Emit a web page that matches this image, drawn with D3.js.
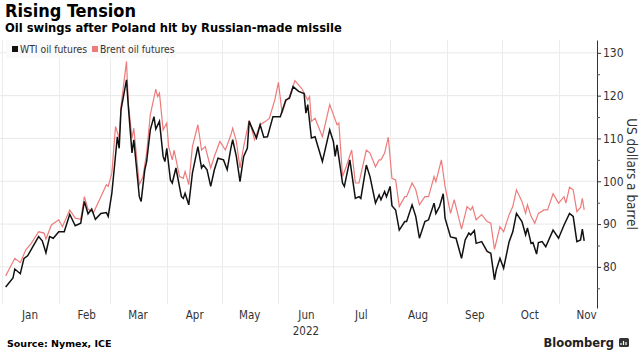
<!DOCTYPE html>
<html>
<head>
<meta charset="utf-8">
<script src="https://cdn.jsdelivr.net/npm/d3@7"></script>
<style>
  body { margin: 0; background: #fff; }
  text { font-family: "DejaVu Sans Condensed", "DejaVu Sans", sans-serif; }
</style>
</head>
<body>
<div id="chart"></div>
<script>
var wtiDates = ["2022-01-03","2022-01-07","2022-01-08","2022-01-11","2022-01-13","2022-01-15","2022-01-17","2022-01-21","2022-01-23","2022-01-25","2022-01-27","2022-01-29",
  "2022-02-01","2022-02-04","2022-02-07","2022-02-10","2022-02-13","2022-02-15","2022-02-17","2022-02-19","2022-02-21","2022-02-24","2022-02-27","2022-02-28",
  "2022-03-02","2022-03-05","2022-03-06","2022-03-07","2022-03-10","2022-03-11","2022-03-13","2022-03-14","2022-03-17","2022-03-18","2022-03-20","2022-03-21","2022-03-23","2022-03-25","2022-03-26","2022-03-28","2022-03-30","2022-03-31",
  "2022-04-01","2022-04-03","2022-04-04","2022-04-06","2022-04-09","2022-04-10","2022-04-11","2022-04-13","2022-04-15","2022-04-18","2022-04-20","2022-04-21","2022-04-23","2022-04-25","2022-04-27","2022-04-29",
  "2022-05-02","2022-05-04","2022-05-06","2022-05-07","2022-05-09","2022-05-11","2022-05-13","2022-05-15","2022-05-16","2022-05-18","2022-05-20","2022-05-22","2022-05-24","2022-05-26","2022-05-29","2022-05-31",
  "2022-06-02","2022-06-05","2022-06-07","2022-06-09","2022-06-12","2022-06-15","2022-06-16","2022-06-17","2022-06-19","2022-06-21","2022-06-25","2022-06-29",
  "2022-07-01","2022-07-02","2022-07-03","2022-07-06","2022-07-07","2022-07-10","2022-07-13","2022-07-15","2022-07-16","2022-07-19","2022-07-21","2022-07-24","2022-07-26","2022-07-27","2022-07-29","2022-07-30",
  "2022-08-01","2022-08-02","2022-08-04","2022-08-06","2022-08-09","2022-08-10","2022-08-13","2022-08-15","2022-08-17","2022-08-20","2022-08-22","2022-08-25","2022-08-26","2022-08-28","2022-08-30","2022-08-31",
  "2022-09-03","2022-09-06","2022-09-09","2022-09-11","2022-09-13","2022-09-14","2022-09-16","2022-09-17","2022-09-20","2022-09-23","2022-09-25","2022-09-27","2022-09-28","2022-09-30",
  "2022-10-02","2022-10-05","2022-10-07","2022-10-09","2022-10-12","2022-10-14","2022-10-15","2022-10-17","2022-10-18","2022-10-20","2022-10-21","2022-10-23","2022-10-25","2022-10-29",
  "2022-11-01","2022-11-04","2022-11-07","2022-11-09","2022-11-11","2022-11-13","2022-11-14","2022-11-15"];
var wtiValues = [75.3,77.4,79.5,78.4,82.0,82.6,84.1,87.1,86.1,83.3,87.1,86.7,
  88.2,88.2,92.3,89.6,90.2,95.3,92.4,93.5,91.1,92.5,92.7,91.8,
  97.2,110.4,107.7,116.7,123.7,117.5,106.6,109.7,96.4,95.3,102.7,104.6,112.0,115.1,112.2,114.0,105.8,104.6,
  107.7,100.3,99.6,103.1,96.4,96.0,97.2,94.5,101.9,108.1,103.1,103.8,102.7,98.8,102.7,105.4,
  105.0,102.7,107.7,109.7,105.8,99.9,105.8,107.7,114.0,112.0,110.1,113.2,110.3,110.4,115.1,115.1,
  115.1,119.0,119.4,122.1,121.0,120.5,115.9,117.9,110.1,110.4,104.6,112.0,
  109.3,105.8,108.5,99.6,98.8,105.0,96.0,96.4,96.0,103.8,101.1,94.9,96.8,95.7,97.6,96.4,
  98.8,94.3,93.3,88.6,90.6,90.6,94.5,91.8,86.7,90.6,91.0,94.9,92.5,94.1,97.1,91.4,
  87.0,86.7,82.0,86.3,87.9,87.5,88.5,85.5,85.9,83.6,83.2,77.0,79.3,82.0,
  79.7,85.9,88.2,92.5,90.6,87.5,89.1,85.5,85.7,83.0,85.7,85.9,84.7,88.6,
  86.7,89.8,92.5,91.8,85.9,86.3,88.8,86.1];

var brentDates = ["2022-01-03","2022-01-08","2022-01-11","2022-01-14","2022-01-17","2022-01-21","2022-01-24","2022-01-25","2022-01-28",
  "2022-02-01","2022-02-03","2022-02-07","2022-02-10","2022-02-13","2022-02-15","2022-02-17","2022-02-20","2022-02-24","2022-02-27","2022-02-28",
  "2022-03-02","2022-03-04","2022-03-06","2022-03-07","2022-03-10","2022-03-11","2022-03-13","2022-03-14","2022-03-17","2022-03-19","2022-03-21","2022-03-23","2022-03-26","2022-03-27","2022-03-28","2022-03-30",
  "2022-04-01","2022-04-02","2022-04-04","2022-04-05","2022-04-08","2022-04-10","2022-04-11","2022-04-13","2022-04-15","2022-04-18","2022-04-20","2022-04-22","2022-04-25","2022-04-27","2022-04-30",
  "2022-05-03","2022-05-06","2022-05-07","2022-05-09","2022-05-11","2022-05-13","2022-05-16","2022-05-19","2022-05-22","2022-05-25","2022-05-27","2022-05-30",
  "2022-06-01","2022-06-03","2022-06-05","2022-06-07","2022-06-10","2022-06-12","2022-06-14","2022-06-17","2022-06-18","2022-06-19","2022-06-21","2022-06-25","2022-06-29",
  "2022-07-03","2022-07-04","2022-07-06","2022-07-08","2022-07-11","2022-07-13","2022-07-15","2022-07-19","2022-07-21","2022-07-24","2022-07-26","2022-07-27","2022-07-29","2022-07-31",
  "2022-08-02","2022-08-04","2022-08-06","2022-08-09","2022-08-10","2022-08-13","2022-08-15","2022-08-17","2022-08-20","2022-08-22","2022-08-25","2022-08-26","2022-08-29","2022-08-31",
  "2022-09-03","2022-09-05","2022-09-09","2022-09-12","2022-09-14","2022-09-15","2022-09-17","2022-09-20","2022-09-23","2022-09-25","2022-09-27","2022-09-30",
  "2022-10-02","2022-10-05","2022-10-07","2022-10-09","2022-10-12","2022-10-14","2022-10-15","2022-10-17","2022-10-19","2022-10-21","2022-10-24","2022-10-26","2022-10-29",
  "2022-11-01","2022-11-04","2022-11-05","2022-11-07","2022-11-09","2022-11-11","2022-11-13","2022-11-14","2022-11-15"];
var brentValues = [77.9,82.0,81.0,84.0,85.5,88.2,87.9,86.5,89.8,
  91.0,89.4,93.3,91.4,91.1,96.4,93.5,92.7,96.4,99.2,98.8,
  101.9,112.8,110.1,117.5,128.0,118.2,110.1,112.4,99.2,101.1,106.6,115.5,121.5,119.8,120.6,112.0,
  113.6,108.1,105.0,107.3,101.1,100.7,102.3,99.2,108.1,113.2,107.3,108.1,103.1,105.8,109.3,
  107.3,110.8,112.4,109.3,103.1,108.1,114.3,109.7,113.2,114.0,114.7,119.0,
  123.1,115.9,118.6,119.8,123.5,122.5,121.5,119.0,119.8,114.0,114.7,110.4,117.9,
  113.2,113.6,101.1,103.4,107.3,99.6,99.6,107.3,106.6,103.4,105.0,105.0,106.6,110.3,
  100.7,100.3,94.1,96.4,96.4,99.6,98.0,94.5,96.4,96.4,101.1,99.9,105.0,98.8,
  92.5,95.7,88.8,94.1,93.3,94.1,91.0,92.2,90.6,90.2,84.1,89.4,
  88.2,92.2,94.1,98.0,95.3,92.5,94.5,91.8,90.2,92.5,93.3,93.3,97.1,
  94.9,96.4,94.9,98.6,98.0,92.9,93.9,96.0,93.3];

var yTicks = [80, 90, 100, 110, 120, 130];
var yMinorTicks = [75, 85, 95, 105, 115, 125];
var monthStarts = ["2022-01-01","2022-02-01","2022-03-01","2022-04-01","2022-05-01","2022-06-01","2022-07-01","2022-08-01","2022-09-01","2022-10-01","2022-11-01"];
var monthLabelDates = ["2022-01-16","2022-02-16","2022-03-16","2022-04-16","2022-05-16","2022-06-16","2022-07-16","2022-08-16","2022-09-16","2022-10-16","2022-11-16"];

function init() {
  var w = 642;
  var h = 353;
  var parse = d3.timeParse("%Y-%m-%d");
  var cond = '"DejaVu Sans Condensed", "DejaVu Sans", sans-serif';

  var x = d3.scaleTime()
      .domain([parse("2022-01-01"), parse("2022-11-22")])
      .range([2, 597]);
  var y = d3.scaleLinear()
      .domain([70.4, 133])
      .range([308, 40]);

  var svg = d3.select("#chart")
      .append("svg")
      .attr("width", w)
      .attr("height", h);

  // horizontal grid
  svg.selectAll("line.hgrid")
    .data(yTicks)
    .enter()
    .append("line")
    .attr("class", "hgrid")
    .attr("x1", 0).attr("x2", x.range()[1])
    .attr("y1", function(d) { return y(d); })
    .attr("y2", function(d) { return y(d); })
    .attr("stroke", "#e8e8e8").attr("stroke-width", 1);

  // vertical grid at month starts
  svg.selectAll("line.vgrid")
    .data(monthStarts.map(parse))
    .enter()
    .append("line")
    .attr("class", "vgrid")
    .attr("x1", function(d) { return Math.round(x(d)) + 0.5; })
    .attr("x2", function(d) { return Math.round(x(d)) + 0.5; })
    .attr("y1", 40).attr("y2", 304)
    .attr("stroke", "#ececec").attr("stroke-width", 1);

  var line = d3.line()
      .x(function(d) { return x(d.date); })
      .y(function(d) { return y(d.value); });

  var brent = brentDates.map(function(d, i) { return {date: parse(d), value: brentValues[i]}; });
  var wti = wtiDates.map(function(d, i) { return {date: parse(d), value: wtiValues[i]}; });

  svg.append("path")
    .datum(brent)
    .attr("fill", "none")
    .attr("stroke", "#ee7b7b")
    .attr("stroke-width", 1.2)
    .attr("d", line);

  svg.append("path")
    .datum(wti)
    .attr("fill", "none")
    .attr("stroke", "#111")
    .attr("stroke-width", 1.5)
    .attr("d", line);

  // y axis on the right
  var yAxis = svg.append("g")
    .attr("transform", "translate(" + x.range()[1] + ",0)")
    .call(d3.axisRight(y).tickValues(yTicks).tickSize(4).tickSizeOuter(0).tickPadding(2));
  yAxis.select(".domain").attr("stroke", "#333");
  yAxis.selectAll(".tick line").attr("stroke", "#333");
  yAxis.selectAll("text")
    .attr("fill", "#333")
    .style("font-size", "12px")
    .style("font-family", cond);

  svg.append("g")
    .attr("transform", "translate(" + x.range()[1] + ",0)")
    .call(d3.axisRight(y).tickValues(yMinorTicks).tickSize(3).tickFormat(""))
    .call(function(g) { g.select(".domain").remove(); })
    .selectAll(".tick line").attr("stroke", "#555");

  // month labels
  var xAxis = svg.append("g")
    .attr("transform", "translate(0,304)")
    .call(d3.axisBottom(x).tickValues(monthLabelDates.map(parse)).tickSize(0).tickPadding(7).tickFormat(d3.timeFormat("%b")));
  xAxis.select(".domain").remove();
  xAxis.selectAll("text")
    .attr("fill", "#333")
    .style("font-size", "11.5px")
    .style("font-family", cond);

  svg.append("text")
    .attr("x", x(parse("2022-06-16")))
    .attr("y", 335)
    .attr("text-anchor", "middle")
    .attr("fill", "#333")
    .style("font-size", "11.5px")
    .text("2022");

  // y axis title
  svg.append("text")
    .attr("transform", "translate(627,174) rotate(90)")
    .attr("text-anchor", "middle")
    .attr("fill", "#333")
    .style("font-size", "13.5px")
    .text("US dollars a barrel");

  // titles
  svg.append("text")
    .attr("x", 5).attr("y", 17)
    .style("font-family", cond)
    .style("font-weight", "bold")
    .style("font-size", "18px")
    .attr("fill", "#000")
    .text("Rising Tension");
  svg.append("text")
    .attr("x", 5).attr("y", 32)
    .style("font-family", cond)
    .style("font-weight", "bold")
    .style("font-size", "12.8px")
    .attr("fill", "#000")
    .text("Oil swings after Poland hit by Russian-made missile");

  // legend
  svg.append("rect")
    .attr("x", 6).attr("y", 40).attr("width", 170).attr("height", 18)
    .attr("fill", "#fafafa");
  var legend = [{name: "WTI oil futures", color: "#111", x: 12},
                {name: "Brent oil futures", color: "#ee7b7b", x: 92}];
  var lg = svg.selectAll("g.legend")
    .data(legend)
    .enter()
    .append("g")
    .attr("class", "legend")
    .attr("transform", function(d) { return "translate(" + d.x + ",0)"; });
  lg.append("rect")
    .attr("x", 0).attr("y", 46).attr("width", 6).attr("height", 6)
    .attr("fill", function(d) { return d.color; });
  lg.append("text")
    .attr("x", 8).attr("y", 53)
    .attr("fill", "#333")
    .style("font-size", "10.3px")
    .text(function(d) { return d.name; });

  // footer
  svg.append("text")
    .attr("x", 7).attr("y", 347)
    .style("font-family", '"DejaVu Sans", sans-serif')
    .style("font-weight", "bold")
    .style("font-size", "9.5px")
    .attr("fill", "#000")
    .text("Source: Nymex, ICE");
  svg.append("text")
    .attr("x", 614).attr("y", 347)
    .attr("text-anchor", "end")
    .style("font-family", '"DejaVu Sans", sans-serif')
    .style("font-weight", "bold")
    .style("font-size", "11.5px")
    .attr("fill", "#222")
    .text("Bloomberg");
  svg.append("rect")
    .attr("x", 619).attr("y", 338).attr("width", 10).attr("height", 9)
    .attr("rx", 1.5)
    .attr("fill", "#333");
  svg.append("path")
    .attr("d", "M621,345 L621,343 M623.5,345 L623.5,341 M626,345 L626,342")
    .attr("stroke", "#fff").attr("stroke-width", 1.2);
}

window.onload = init;
</script>
</body>
</html>
